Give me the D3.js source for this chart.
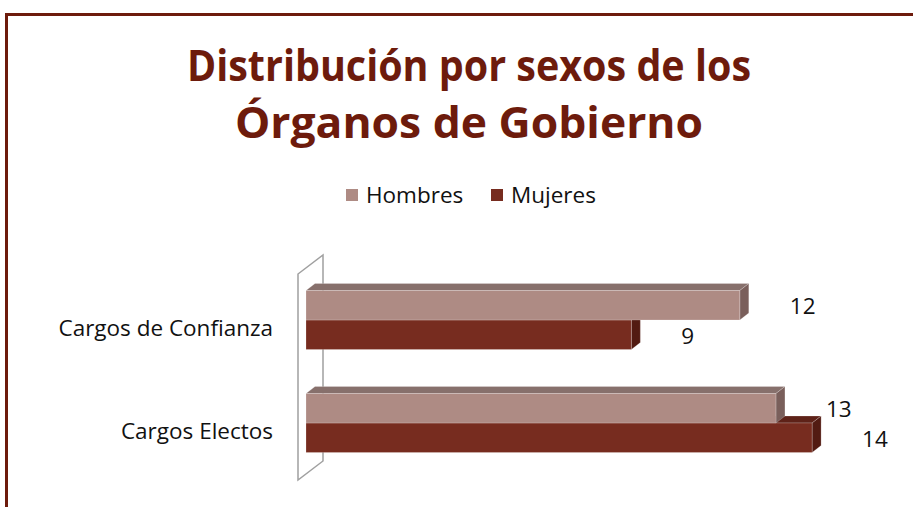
<!DOCTYPE html>
<html>
<head>
<meta charset="utf-8">
<script src="https://cdn.jsdelivr.net/npm/d3@7"></script>
<style>
  body { margin: 0; background: #fff; }
  svg { display: block; }
</style>
</head>
<body>
<div id="chart"></div>
<script>
var categories = ["Cargos de Confianza", "Cargos Electos"];
var series = ["Hombres", "Mujeres"];
var hombres = [12, 13];
var mujeres = [9, 14];
var title_lines = ["Distribución por sexos de los", "Órganos de Gobierno"];

var width = 913, height = 507;
var font = "'Open Sans', 'Noto Sans', sans-serif";
var dark_red = "#6d1b0c";

// front / top / side colours per series
var face_colors = {
    "Hombres": {front: "#ae8b84", top: "#87706c", side: "#7a5f5b"},
    "Mujeres": {front: "#772c1f", top: "#5e2218", side: "#521b12"}
};

// depth offset of the 3d bars and of the wall
var dx = 9, dy = -7;
var wall_dx = 25, wall_dy = -19;

var svg = d3.select("#chart").append("svg")
    .attr("width", width)
    .attr("height", height);

// outer frame, runs off the right and bottom edges
svg.append("rect")
    .attr("x", 6.5)
    .attr("y", 14.5)
    .attr("width", 1000)
    .attr("height", 600)
    .attr("fill", "none")
    .attr("stroke", dark_red)
    .attr("stroke-width", 3);

// title
var title_widths = [564, 468];
svg.append("g").selectAll("text")
    .data(title_lines)
    .enter().append("text")
        .attr("x", 469)
        .attr("y", function(d, i) { return 81 + i * 57; })
        .attr("text-anchor", "middle")
        .attr("font-family", font)
        .attr("font-weight", "bold")
        .attr("font-size", 43)
        .attr("fill", dark_red)
        .attr("textLength", function(d, i) { return title_widths[i]; })
        .attr("lengthAdjust", "spacingAndGlyphs")
        .text(function(d) { return d; });

// legend
var legend_x = [346, 491];
var legend = svg.append("g").selectAll("g")
    .data(series)
    .enter().append("g")
        .attr("transform", function(d, i) { return "translate(" + legend_x[i] + ",189)"; });
legend.append("rect")
    .attr("width", 12)
    .attr("height", 12)
    .attr("fill", function(d) { return face_colors[d].front; });
legend.append("text")
    .attr("x", 20)
    .attr("y", 6)
    .attr("dy", "0.35em")
    .attr("font-family", font)
    .attr("font-size", 22.5)
    .attr("fill", "#111")
    .text(function(d) { return d; });

// scales
var x = d3.scaleLinear().domain([0, 16]).range([306, 306 + 16 * 36.15]);
var y0 = d3.scaleBand().domain(categories).range([268.5, 474.5])
    .paddingInner(0.427).paddingOuter(0.2135);
var y1 = d3.scaleBand().domain(series).range([0, y0.bandwidth()]);

// side wall
var wall_top = 274, wall_bottom = 480, wall_left = 298;
svg.append("path")
    .attr("d", "M" + wall_left + "," + wall_top +
        "L" + (wall_left + wall_dx) + "," + (wall_top + wall_dy) +
        "L" + (wall_left + wall_dx) + "," + (wall_bottom + wall_dy) +
        "L" + wall_left + "," + wall_bottom + "Z")
    .attr("fill", "none")
    .attr("stroke", "#a0a0a0")
    .attr("stroke-width", 1.5);

// bar data, Mujeres first so Hombres sits in front of its top face
var bars = [];
["Mujeres", "Hombres"].forEach(function(s) {
    var vals = s == "Hombres" ? hombres : mujeres;
    categories.forEach(function(c, i) {
        bars.push({"serie": s, "cat": c, "value": vals[i]});
    });
});

var bar = svg.append("g").selectAll("g")
    .data(bars)
    .enter().append("g");

function face_path(d, which) {
    var x0 = x(0), x1 = x(d.value);
    var top = y0(d.cat) + y1(d.serie);
    var bottom = top + y1.bandwidth();
    if (which == "top")
        return "M" + x0 + "," + top + "L" + (x0 + dx) + "," + (top + dy) +
            "L" + (x1 + dx) + "," + (top + dy) + "L" + x1 + "," + top + "Z";
    if (which == "side")
        return "M" + x1 + "," + top + "L" + (x1 + dx) + "," + (top + dy) +
            "L" + (x1 + dx) + "," + (bottom + dy) + "L" + x1 + "," + bottom + "Z";
    return "M" + x0 + "," + top + "L" + x1 + "," + top +
        "L" + x1 + "," + bottom + "L" + x0 + "," + bottom + "Z";
}

["top", "side", "front"].forEach(function(which) {
    bar.append("path")
        .attr("d", function(d) { return face_path(d, which); })
        .attr("fill", function(d) { return face_colors[d.serie][which]; })
        .attr("stroke", "rgba(255,255,255,0.35)")
        .attr("stroke-width", 0.6);
});

// value labels
svg.append("g").selectAll("text")
    .data(bars)
    .enter().append("text")
        .attr("x", function(d) { return x(d.value) + 50; })
        .attr("y", function(d) { return y0(d.cat) + y1(d.serie) + y1.bandwidth() / 2 + 1; })
        .attr("dy", "0.35em")
        .attr("font-family", font)
        .attr("font-size", 22.5)
        .attr("fill", "#111")
        .text(function(d) { return d.value; });

// category labels
svg.append("g").selectAll("text")
    .data(categories)
    .enter().append("text")
        .attr("x", 273)
        .attr("y", function(d) { return y0(d) + y0.bandwidth() / 2 + 8; })
        .attr("dy", "0.35em")
        .attr("text-anchor", "end")
        .attr("font-family", font)
        .attr("font-size", 22.5)
        .attr("fill", "#111")
        .text(function(d) { return d; });
</script>
</body>
</html>
